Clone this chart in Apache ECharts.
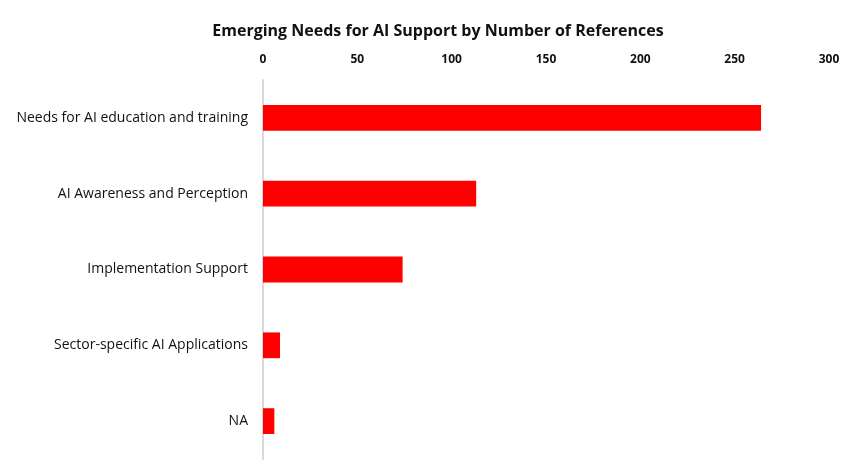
<!DOCTYPE html>
<html>
<head>
<meta charset="utf-8">
<script src="https://cdn.jsdelivr.net/npm/echarts@6/dist/echarts.min.js"></script>
<style>html,body{margin:0;padding:0;background:#fff;}#main{width:850px;height:474px;}</style>
</head>
<body>
<div id="main"></div>
<script>
const categories = ["Needs for AI education and training", "AI Awareness and Perception", "Implementation Support", "Sector-specific AI Applications", "NA"];
const references = [264, 113, 74, 9, 6];
const xTicks = [0, 50, 100, 150, 200, 250, 300];

const chart = echarts.init(document.getElementById('main'));
chart.setOption({
  animation: false,
  backgroundColor: '#fff',
  title: {
    text: 'Emerging Needs for AI Support by Number of References',
    left: 433, top: 18, textAlign: 'center',
    textStyle: { fontFamily: 'Open Sans', fontSize: 16, fontWeight: 'bold', color: '#111' }
  },
  grid: { left: 263, right: 21, top: 80, bottom: 15 },
  xAxis: {
    type: 'value', position: 'top', min: xTicks[0], max: xTicks[xTicks.length - 1], interval: 50,
    axisLine: { show: false }, axisTick: { show: false }, splitLine: { show: false },
    axisLabel: { fontFamily: 'Open Sans', fontSize: 12, fontWeight: 'bold', color: '#111', margin: 14 }
  },
  yAxis: {
    type: 'category', data: categories, inverse: true,
    axisLine: { show: true, lineStyle: { color: '#d9d9d9', width: 2 } },
    axisTick: { show: false },
    axisLabel: { fontFamily: 'Open Sans', fontSize: 14, color: '#111', margin: 15 }
  },
  series: [{
    type: 'bar', data: references, barWidth: '34%',
    itemStyle: { color: '#ff0000' }
  }]
});
</script>
</body>
</html>
